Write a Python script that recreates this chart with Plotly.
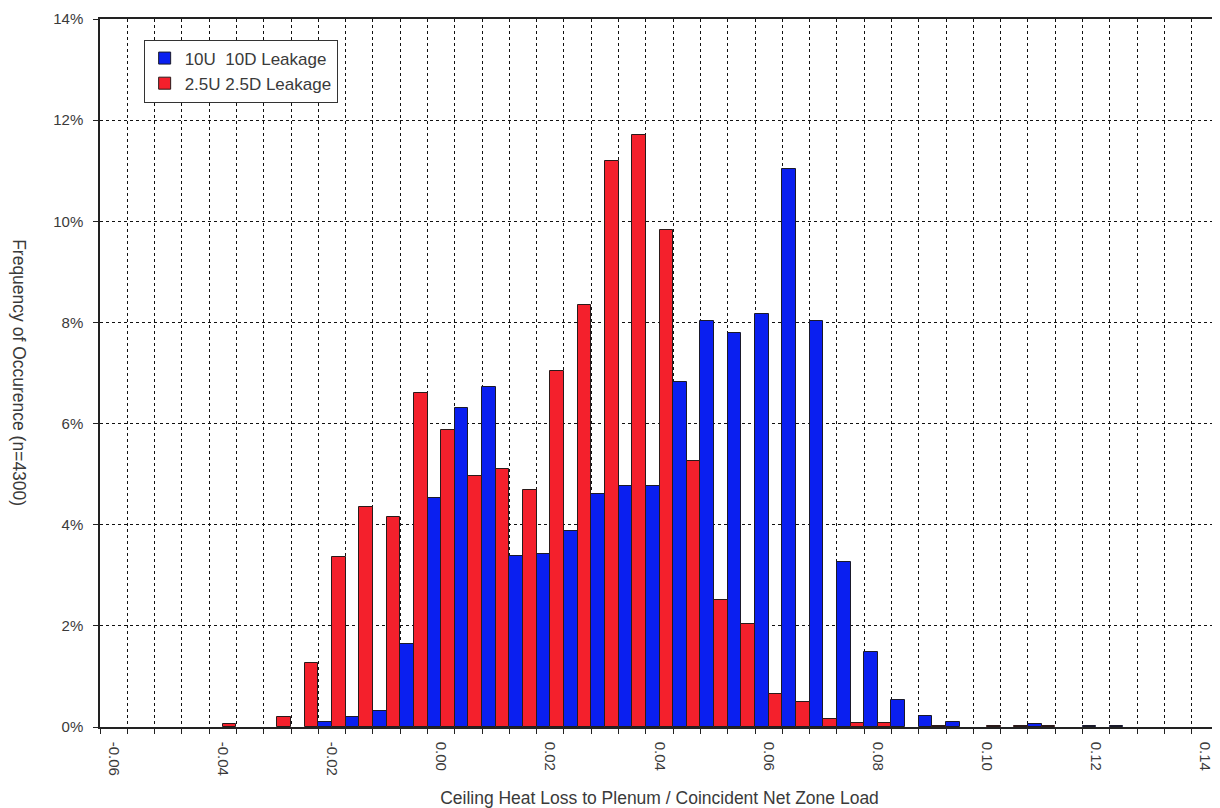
import plotly.graph_objects as go

# Bin centres (ratio of ceiling heat loss to plenum / coincident net zone load)
bins = [-0.060, -0.055, -0.050, -0.045, -0.040, -0.035, -0.030, -0.025, -0.020, -0.015,
        -0.010, -0.005, 0.000, 0.005, 0.010, 0.015, 0.020, 0.025, 0.030, 0.035,
        0.040, 0.045, 0.050, 0.055, 0.060, 0.065, 0.070, 0.075, 0.080, 0.085,
        0.090, 0.095, 0.100, 0.105, 0.110, 0.115, 0.120, 0.125, 0.130, 0.135, 0.140]

# Frequency of occurrence, percent
leak_10 = [0, 0, 0, 0, 0, 0, 0, 0, 0.10, 0.19,
           0.32, 1.65, 4.52, 6.31, 6.73, 3.38, 3.43, 3.88, 4.60, 4.76,
           4.76, 6.83, 8.02, 7.80, 8.16, 11.04, 8.02, 3.26, 1.48, 0.54,
           0.21, 0.09, 0, 0, 0.05, 0, 0.02, 0.02, 0, 0, 0]
leak_25 = [0, 0, 0, 0, 0.05, 0, 0.20, 1.26, 3.37, 4.35,
           4.15, 6.60, 5.88, 4.97, 5.10, 4.68, 7.03, 8.35, 11.19, 11.70,
           9.83, 5.26, 2.51, 2.03, 0.66, 0.50, 0.16, 0.07, 0.08, 0,
           0.02, 0, 0.02, 0.02, 0.02, 0, 0, 0, 0, 0, 0]

label_vals = [-0.06, -0.04, -0.02, 0.00, 0.02, 0.04, 0.06, 0.08, 0.10, 0.12, 0.14]
label_text = ["-0.06", "-0.04", "-0.02", "0.00", "0.02", "0.04", "0.06", "0.08", "0.10", "0.12", "0.14"]
y_ticks = [0, 2, 4, 6, 8, 10, 12, 14]

half = 0.0025
edges = [b - half for b in bins] + [bins[-1] + half]

FONT = "Liberation Sans, Arial, sans-serif"
TXT = "#3a3a3a"


def nz(vals):
    return [v if v else None for v in vals]


fig = go.Figure()
fig.add_trace(go.Bar(x=bins, y=nz(leak_10), name="10U  10D Leakage",
                     marker=dict(color="#0a1ff0", line=dict(color="#1a1a2a", width=1)),
                     legendgroup="a"))
fig.add_trace(go.Bar(x=bins, y=nz(leak_25), name="2.5U 2.5D Leakage",
                     marker=dict(color="#f4202c", line=dict(color="#2a1a1a", width=1)),
                     legendgroup="b"))

fig.update_layout(
    width=1220, height=808,
    margin=dict(l=92, r=9, t=11, b=89),
    paper_bgcolor="white", plot_bgcolor="white",
    barmode="group", bargap=0, bargroupgap=0,
    font=dict(family=FONT, size=16, color=TXT),
    showlegend=True,
    legend=dict(x=0.039, y=0.971, xanchor="left", yanchor="top",
                bgcolor="white", bordercolor="#333333", borderwidth=1,
                font=dict(size=17, color=TXT), tracegroupgap=0,
                traceorder="grouped", itemwidth=30),
    xaxis=dict(
        range=[edges[0], edges[-1]], automargin=False,
        tickmode="array", tickvals=label_vals, ticktext=label_text,
        tickangle=90, ticks="", showgrid=False, zeroline=False,
        showline=True, linecolor="#222222", linewidth=1.5, mirror=True,
        tickfont=dict(size=15, color=TXT), ticklabelstandoff=10,
        minor=dict(tickmode="array", tickvals=edges, ticks="outside", ticklen=5,
                   tickcolor="#222222", showgrid=True, gridcolor="#111111",
                   griddash="3px,3px", gridwidth=1),
        title=dict(text="Ceiling Heat Loss to Plenum / Coincident Net Zone Load",
                   font=dict(size=17.5, color=TXT), standoff=17),
    ),
    yaxis=dict(
        range=[0, 14], automargin=False, tickmode="array", tickvals=y_ticks,
        ticktext=[f"{v}%" for v in y_ticks],
        ticks="outside", ticklen=5, tickcolor="#222222",
        showgrid=True, gridcolor="#111111", griddash="3px,3px", gridwidth=1,
        zeroline=False, showline=True, linecolor="#222222", linewidth=1.5,
        tickfont=dict(size=15, color=TXT), ticklabelstandoff=7,
    ),
)

fig.add_annotation(text="Frequency of Occurence (n=4300)", textangle=90,
                   xref="paper", yref="paper", x=-0.0725, y=0.5,
                   xanchor="center", yanchor="middle", showarrow=False,
                   font=dict(size=17.5, color=TXT))

fig.write_html("out.html")
